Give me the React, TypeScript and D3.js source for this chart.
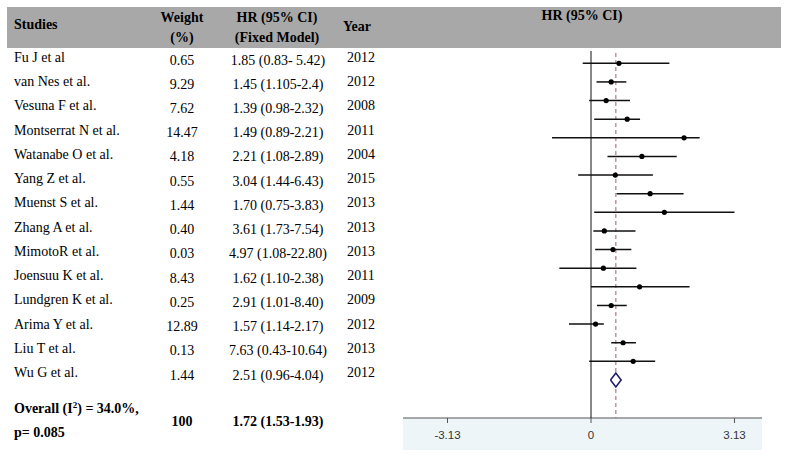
import React from "react";
import * as d3 from "d3";

// Table data
const studies = [
  "Fu J et al", "van Nes et al.", "Vesuna F et al.", "Montserrat N et al.", "Watanabe O et al.",
  "Yang Z et al.", "Muenst S et al.", "Zhang A et al.", "MimotoR et al.", "Joensuu K et al.",
  "Lundgren K et al.", "Arima Y et al.", "Liu T et al.", "Wu G et al."
];
const weights = ["0.65", "9.29", "7.62", "14.47", "4.18", "0.55", "1.44", "0.40", "0.03", "8.43", "0.25", "12.89", "0.13", "1.44"];
const hrText = [
  "1.85 (0.83- 5.42)", "1.45 (1.105-2.4)", "1.39 (0.98-2.32)", "1.49 (0.89-2.21)", "2.21 (1.08-2.89)",
  "3.04 (1.44-6.43)", "1.70 (0.75-3.83)", "3.61 (1.73-7.54)", "4.97 (1.08-22.80)", "1.62 (1.10-2.38)",
  "2.91 (1.01-8.40)", "1.57 (1.14-2.17)", "7.63 (0.43-10.64)", "2.51 (0.96-4.04)"
];
const years = ["2012", "2012", "2008", "2011", "2004", "2015", "2013", "2013", "2013", "2011", "2009", "2012", "2013", "2012"];

// Plot data (log HR, as drawn in the plot panel)
const plotEst = [0.61, 0.44, 0.33, 0.79, 2.03, 1.11, 0.53, 1.29, 1.60, 0.29, 0.48, 0.27, 1.06, 0.44, 0.10, 0.70, 0.92];
const plotLow = [-0.18, 0.12, -0.04, 0.07, -0.85, 0.36, -0.28, 0.56, 0.07, 0.05, 0.09, -0.69, 0.00, 0.13, -0.48, 0.44, -0.04];
const plotHigh = [1.71, 0.77, 0.85, 1.07, 2.37, 1.87, 1.35, 2.02, 3.13, 0.97, 0.88, 0.99, 2.15, 0.78, 0.28, 0.98, 1.40];
const overallEst = Math.log(1.72);
const overallLow = Math.log(1.53);
const overallHigh = Math.log(1.93);
const axisTicks = [-3.13, 0, 3.13];

const serif = "'Liberation Serif', 'Times New Roman', serif";
const sans = "'Liberation Sans', Arial, sans-serif";

export default function App() {
  const x = d3.scaleLinear().domain([-3.13, 3.13]).range([447.5, 734.5]);
  const yPlot = d3.scalePoint<number>().domain(d3.range(plotEst.length + 1)).range([63.3, 380]);
  const yRow = d3.scalePoint<number>().domain(d3.range(studies.length)).range([57, 372]);
  const yDiamond = yPlot(plotEst.length)!;
  const axisY = 418;

  const diamond = d3.line<[number, number]>()([
    [x(overallLow), yDiamond],
    [x(overallEst), yDiamond - 7],
    [x(overallHigh), yDiamond],
    [x(overallEst), yDiamond + 7],
    [x(overallLow), yDiamond],
  ]) as string;

  const colW = 182, colHR = 278, colY = 361;

  return (
    <svg width={787} height={456} style={{ position: "absolute", left: 0, top: 0, background: "#fff" }}>
      {/* header band */}
      <rect x={7} y={7} width={774} height={41} fill="#a8a8a8" />
      <g fontFamily={serif} fontWeight="bold" fontSize={14} fill="#000">
        <text x={14} y={29}>Studies</text>
        <text x={colW} y={21.5} textAnchor="middle">Weight</text>
        <text x={colW} y={41.5} textAnchor="middle">(%)</text>
        <text x={277} y={21.5} textAnchor="middle">HR (95% CI)</text>
        <text x={277} y={41.5} textAnchor="middle">(Fixed Model)</text>
        <text x={357} y={31} textAnchor="middle">Year</text>
        <text x={582} y={20} textAnchor="middle">HR (95% CI)</text>
      </g>

      {/* table rows */}
      <g fontFamily={serif} fontSize={14} fill="#000">
        {studies.map((s, i) => {
          const y = yRow(i)!;
          return (
            <g key={s}>
              <text x={14} y={y + 5}>{s}</text>
              <text x={colW} y={y + 7.5} textAnchor="middle">{weights[i]}</text>
              <text x={colHR} y={y + 7.5} textAnchor="middle">{hrText[i]}</text>
              <text x={colY} y={y + 5} textAnchor="middle">{years[i]}</text>
            </g>
          );
        })}
      </g>
      <g fontFamily={serif} fontSize={14} fontWeight="bold" fill="#000">
        <text x={14} y={413}>Overall (I<tspan dy={-5} fontSize={9}>2</tspan><tspan dy={5}>) = 34.0%,</tspan></text>
        <text x={14} y={436.5}>p= 0.085</text>
        <text x={colW} y={426} textAnchor="middle">100</text>
        <text x={colHR} y={426} textAnchor="middle">1.72 (1.53-1.93)</text>
      </g>

      {/* bottom axis band */}
      <rect x={403} y={axisY} width={359} height={32} fill="#eef5f8" />
      <line x1={403} x2={762} y1={axisY} y2={axisY} stroke="#555" strokeWidth={1} />
      {axisTicks.map((t) => (
        <g key={t}>
          <line x1={x(t)} x2={x(t)} y1={axisY} y2={axisY + 5} stroke="#555" />
          <text x={x(t)} y={axisY + 21} textAnchor="middle" fontFamily={sans} fontSize={11.5} fill="#333">
            {t === 0 ? "0" : t.toFixed(2)}
          </text>
        </g>
      ))}

      {/* reference lines */}
      <line x1={x(0)} x2={x(0)} y1={51} y2={axisY} stroke="#111" strokeWidth={1} />
      <line x1={x(overallEst)} x2={x(overallEst)} y1={53} y2={axisY} stroke="#a0606c" strokeWidth={1} strokeDasharray="4,3" />

      {/* study CIs */}
      {plotEst.map((e, i) => {
        const y = yPlot(i)!;
        return (
          <g key={i}>
            <line x1={x(plotLow[i])} x2={x(plotHigh[i])} y1={y} y2={y} stroke="#111" strokeWidth={1.5} />
            <circle cx={x(e)} cy={y} r={2.6} fill="#000" />
          </g>
        );
      })}

      {/* overall diamond */}
      <path d={diamond} fill="#fff" stroke="#1f1f6e" strokeWidth={1.6} />
    </svg>
  );
}
